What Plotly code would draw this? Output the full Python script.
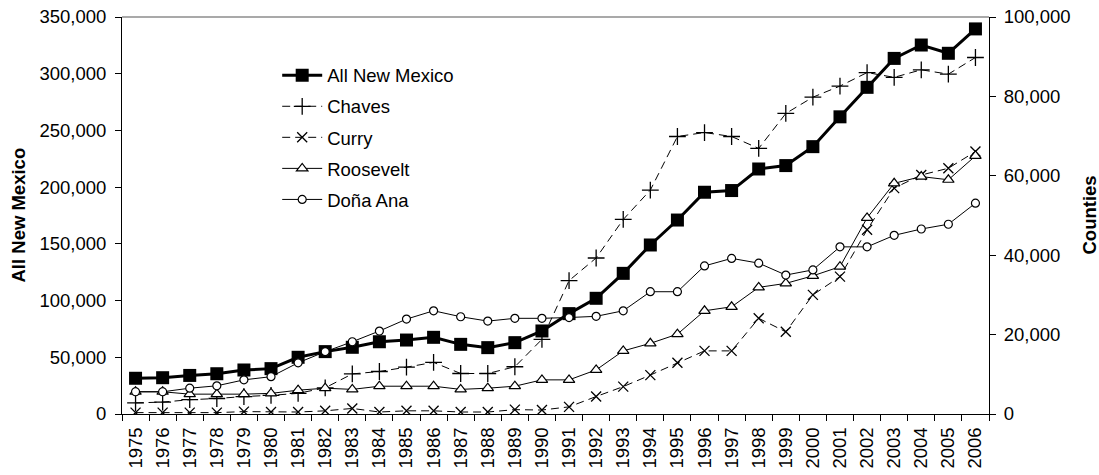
import plotly.graph_objects as go

years = [str(y) for y in range(1975, 2007)]

all_new_mexico = [31500, 32000, 34000, 35500, 38800, 40000, 50000, 55000, 58800, 63700,
                  65200, 67600, 61400, 58500, 62900, 73200, 88500, 102000, 124000, 149000,
                  171000, 195500, 197000, 216000, 219000, 235700, 262000, 288000, 313500,
                  325300, 318000, 339500]

chaves = [2800, 3000, 3600, 3900, 4400, 4700, 5200, 6600, 10100, 10700, 11800, 13000,
          10200, 10200, 11900, 18800, 33600, 39300, 49000, 56400, 69900, 70900, 69900,
          66900, 75700, 79800, 82600, 86000, 84800, 86700, 85600, 89800]

curry = [350, 350, 350, 350, 600, 500, 500, 800, 1400, 500, 800, 800, 500, 500, 1100,
         1000, 1800, 4400, 6900, 9800, 12900, 15900, 15900, 24100, 20700, 30000, 34600,
         46400, 56900, 60200, 61900, 66100]

roosevelt = [5600, 5600, 5000, 5000, 5000, 5200, 6000, 6500, 6200, 7000, 7000, 7000, 6200,
             6500, 7000, 8600, 8600, 11100, 15900, 17800, 20100, 26000, 27000, 31900, 32900,
             34800, 37100, 49400, 58100, 59800, 59000, 65000]

dona_ana = [5600, 5600, 6500, 7100, 8600, 9400, 12900, 15700, 18200, 20900, 23900, 26000,
            24500, 23400, 24100, 24100, 24300, 24600, 26000, 30800, 30800, 37300, 39200,
            38000, 35000, 36300, 42100, 42100, 45000, 46600, 47800, 53100]

FONT = "Arial, Liberation Sans, sans-serif"
FS = 18.5

fig = go.Figure()

fig.add_trace(go.Scatter(
    x=years, y=all_new_mexico, name="All New Mexico", yaxis="y", legendgroup="a",
    mode="lines+markers", line=dict(color="black", width=3),
    marker=dict(symbol="square", size=13, color="black")))

fig.add_trace(go.Scatter(
    x=years, y=chaves, name="Chaves", yaxis="y2", legendgroup="b",
    mode="lines+markers", line=dict(color="black", width=1, dash="8px,5px"),
    marker=dict(symbol="cross-thin-open", size=12, color="black", line=dict(width=1.3, color="black"))))

fig.add_trace(go.Scatter(
    x=years, y=curry, name="Curry", yaxis="y2", legendgroup="c",
    mode="lines+markers", line=dict(color="black", width=1, dash="8px,5px"),
    marker=dict(symbol="x-thin-open", size=10, color="black", line=dict(width=1.3, color="black"))))

fig.add_trace(go.Scatter(
    x=years, y=roosevelt, name="Roosevelt", yaxis="y2", legendgroup="d",
    mode="lines+markers", line=dict(color="black", width=1),
    marker=dict(symbol="triangle-up", size=10, color="white", line=dict(width=1.2, color="black"))))

fig.add_trace(go.Scatter(
    x=years, y=dona_ana, name="Doña Ana", yaxis="y2", legendgroup="e",
    mode="lines+markers", line=dict(color="black", width=1),
    marker=dict(symbol="circle", size=8, color="white", line=dict(width=1.2, color="black"))))

tickfont = dict(family=FONT, size=FS, color="black")

fig.update_layout(
    width=1099, height=475,
    margin=dict(l=122, r=110, t=17, b=61, pad=0),
    paper_bgcolor="white", plot_bgcolor="white",
    font=dict(family=FONT, size=FS, color="black"),
    showlegend=True,
    legend=dict(x=0.179, y=0.9, xanchor="left", yanchor="top",
                bgcolor="rgba(0,0,0,0)", font=dict(family=FONT, size=FS, color="black"),
                tracegroupgap=4, itemwidth=40),
    xaxis=dict(type="category", range=[-0.5, 31.5], tickson="boundaries",
               ticks="outside", ticklen=6, tickcolor="black", tickwidth=1,
               showline=True, linecolor="black", linewidth=1, showgrid=False,
               tickangle=-90, tickfont=tickfont, automargin=False, zeroline=False,
               ticklabelstandoff=5, ticklabeloverflow="allow"),
    xaxis2=dict(overlaying="x", anchor="y", range=[-0.5, 31.5], tick0=-0.5, dtick=1,
                ticks="inside", ticklen=6, tickcolor="black", showticklabels=False,
                showline=False, showgrid=False, zeroline=False, side="bottom"),
    yaxis=dict(range=[0, 350000], dtick=50000, tickformat=",", ticks="outside",
               ticklen=6, tickcolor="black", showline=True, linecolor="black",
               linewidth=1, showgrid=False, zeroline=False, tickfont=tickfont,
               automargin=False, ticklabelstandoff=5, ticklabeloverflow="allow"),
    yaxis2=dict(range=[0, 100000], dtick=20000, tickformat=",", overlaying="y",
                side="right", anchor="x", ticks="outside", ticklen=6, tickcolor="black",
                showline=True, linecolor="black", linewidth=1, showgrid=False,
                zeroline=False, tickfont=tickfont, automargin=False, ticklabelstandoff=4,
                ticklabeloverflow="allow"),
    yaxis3=dict(range=[0, 350000], dtick=50000, overlaying="y", side="left", anchor="x",
                ticks="inside", ticklen=6, tickcolor="black", showticklabels=False,
                showline=False, showgrid=False, zeroline=False),
    yaxis4=dict(range=[0, 100000], dtick=20000, overlaying="y", side="right", anchor="x",
                ticks="inside", ticklen=6, tickcolor="black", showticklabels=False,
                showline=False, showgrid=False, zeroline=False),
    shapes=[dict(type="line", xref="paper", yref="paper", x0=0, x1=1, y0=1, y1=1,
                 line=dict(color="#8c8c8c", width=1.5))],
    annotations=[
        dict(text="<b>All New Mexico</b>", textangle=-90, xref="paper", yref="paper",
             x=0, y=0.5, xanchor="center", yanchor="middle", xshift=-104, showarrow=False,
             font=dict(family=FONT, size=FS, color="black")),
        dict(text="<b>Counties</b>", textangle=-90, xref="paper", yref="paper",
             x=1, y=0.5, xanchor="center", yanchor="middle", xshift=100, showarrow=False,
             font=dict(family=FONT, size=FS, color="black")),
    ],
)

fig.write_html("out.html", config={"displayModeBar": False},
               post_script="document.body.style.margin='0px';")
